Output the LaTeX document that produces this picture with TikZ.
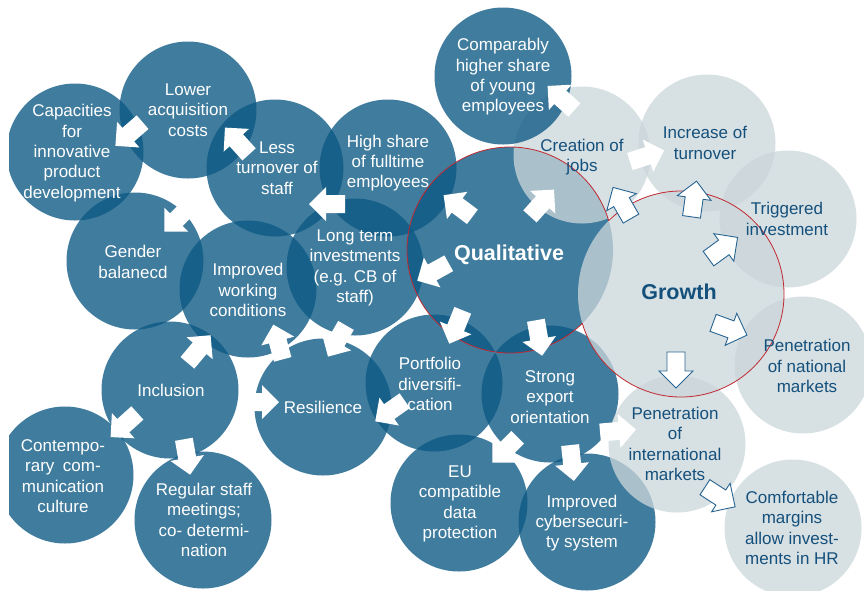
\documentclass[tikz,border=0pt]{standalone}
\usepackage{fontspec}
\setmainfont{Liberation Sans}
\definecolor{bblue}{RGB}{13,89,132}
\definecolor{ggrey}{RGB}{203,214,218}
\definecolor{tblue}{RGB}{20,80,124}
\definecolor{rred}{RGB}{192,40,48}
\definecolor{ablue}{RGB}{40,100,145}
\begin{document}
\begin{tikzpicture}[x=1pt,y=-1pt,
  bc/.style={circle, fill=bblue, fill opacity=0.79, minimum size=137pt, inner sep=0pt, outer sep=0pt},
  gc/.style={circle, fill=ggrey, fill opacity=0.76, minimum size=137pt, inner sep=0pt, outer sep=0pt},
  big/.style={minimum size=206pt},
  wt/.style={text=white, font=\fontsize{17}{20.3}\selectfont, align=center, inner sep=0pt},
  gt/.style={text=tblue, font=\fontsize{17}{20.3}\selectfont, align=center, inner sep=0pt},
  wtb/.style={text=white, font=\fontsize{21.5}{25}\selectfont\bfseries, inner sep=0pt},
  gtb/.style={text=tblue, font=\fontsize{21.5}{25}\selectfont\bfseries, inner sep=0pt},
  wa/.style={fill=white},
  oa/.style={fill=white, draw=ablue, line width=0.9pt, line join=miter},
  redline/.style={draw=rred, line width=0.8pt},
  pics/barrow/.style={code={\path[pic actions] (-18,-9) -- (1,-9) -- (1,-17) -- (18,0) -- (1,17) -- (1,9) -- (-18,9) -- cycle;}}
]
\useasboundingbox (0,0) rectangle (864,590);
\begin{scope}
\clip (9,0) rectangle (864,590);
% blue circles
\node[bc] (cap) at (75,152) {};
\node[bc] (low) at (188,110) {};
\node[bc] (less) at (275,168) {};
\node[bc] (high) at (388,168) {};
\node[bc] (gen) at (135,261) {};
\node[bc] (imp) at (248,289) {};
\node[bc] (long) at (355,267) {};
\node[bc] (incl) at (170,390) {};
\node[bc] (cont) at (65,475) {};
\node[bc] (reg) at (203,520) {};
\node[bc] (res) at (323,407) {};
\node[bc] (port) at (434,383) {};
\node[bc] (exp) at (550,394) {};
\node[bc] (eu) at (459,503) {};
\node[bc] (cyb) at (587,522) {};
\node[bc, big] (qual) at (510,250) {};
% grey circles
\node[gc] (jobs) at (582,155) {};
\node[gc] (turn) at (707,143) {};
\node[gc] (trig) at (788,219) {};
\node[gc, big] (growth) at (681,294) {};
\node[gc] (nat) at (803,365) {};
\node[gc] (intl) at (677,444) {};
\node[gc] (marg) at (793,528) {};
% blue circle lying over a grey one
\node[bc] (comp) at (503,76) {};
\end{scope}
% red outline of the union of the two big circles
\draw[redline] ([shift={(16.55:103pt)}]qual.center) arc[start angle=16.55, end angle=314.59, radius=103pt];
\draw[redline] ([shift={(196.55:103pt)}]growth.center) arc[start angle=196.55, end angle=494.59, radius=103pt];
% white block arrows
\pic[wa, rotate=221] (a1) at (129,134) {barrow};
\pic[wa, rotate=132] (a2) at (237,141) {barrow};
\pic[wa, rotate=180] (a3) at (327,204) {barrow};
\pic[wa, rotate=225] (a4) at (177,219) {barrow};
\pic[wa, rotate=143] (a5) at (458,206) {barrow};
\pic[wa, rotate=48] (a6) at (542,203) {barrow};
\pic[wa, rotate=209] (a7) at (433,272) {barrow};
\pic[wa, rotate=248] (a8) at (456,327) {barrow};
\pic[wa, rotate=280] (a9) at (539,338) {barrow};
\pic[wa, rotate=240] (a10) at (337,341) {barrow};
\pic[wa, rotate=105] (a11) at (278,342) {barrow};
\pic[wa, rotate=50] (a12) at (199,349) {barrow};
\pic[wa, rotate=0] (a13) at (261,402) {barrow};
\pic[wa, rotate=215] (a14) at (390,411) {barrow};
\pic[wa, rotate=222] (a15) at (124,425) {barrow};
\pic[wa, rotate=280] (a16) at (187,457) {barrow};
\pic[wa, rotate=225] (a17) at (505,450) {barrow};
\pic[wa, rotate=276] (a18) at (572,463) {barrow};
\pic[wa, rotate=5] (a19) at (618,431) {barrow};
\pic[wa, rotate=138] (a20) at (561,98) {barrow};
\pic[wa, rotate=18] (a21) at (647,156) {barrow};
% outlined arrows from Growth
\pic[oa, rotate=120] (g1) at (622,203) {barrow};
\pic[oa, rotate=82] (g2) at (694,199) {barrow};
\pic[oa, rotate=36] (g3) at (723,248) {barrow};
\pic[oa, rotate=-20] (g4) at (730,329) {barrow};
\pic[oa, rotate=270] (g5) at (676,370) {barrow};
\pic[oa, rotate=-33] (g6) at (720,497) {barrow};
% texts
\node[wt] (tcap) at (72,153) {Capacities\\for\\innovative\\product\\development};
\node[wt] (tlow) at (188,110) {Lower\\acquisition\\costs};
\node[wt] (tless) at (277,168) {Less\\turnover of\\staff};
\node[wt] (thigh) at (388,163) {High share\\of fulltime\\employees};
\node[wt] (tgen) at (133,262) {Gender\\balanecd};
\node[wt] (timp) at (248,290) {Improved\\working\\conditions};
\node[wt] (tlong) at (355,268) {Long term\\investments\\(e.g. CB of\\staff)};
\node[wt] (tincl) at (171,390) {Inclusion};
\node[wt] (tcont) at (63,476) {Contempo-\\rary\hspace{0.5em}com-\\munication\\culture};
\node[wt] (treg) at (204,520) {Regular staff\\meetings;\\co- determi-\\nation};
\node[wt] (tres) at (323,407) {Resilience};
\node[wt] (tport) at (430,384) {Portfolio\\diversifi-\\cation};
\node[wt] (texp) at (550,397) {Strong\\export\\orientation};
\node[wt] (teu) at (460,504) {EU\\compatible\\data\\protection};
\node[wt] (tcyb) at (582,523) {Improved\\cybersecuri-\\ty system};
\node[wt] (tcomp) at (503,77) {Comparably\\higher share\\of young\\employees};
\node[wtb] (tqual) at (509,255) {Qualitative};
\node[gt] (tjobs) at (582,157) {Creation of\\jobs};
\node[gt] (tturn) at (705,143) {Increase of\\turnover};
\node[gt] (ttrig) at (787,219) {Triggered\\investment};
\node[gtb] (tgrowth) at (679,292) {Growth};
\node[gt] (tnat) at (807,366) {Penetration\\of national\\markets};
\node[gt] (tintl) at (675,444) {Penetration\\of\\international\\markets};
\node[gt] (tmarg) at (792,528) {Comfortable\\margins\\allow invest-\\ments in HR};
\end{tikzpicture}
\end{document}
